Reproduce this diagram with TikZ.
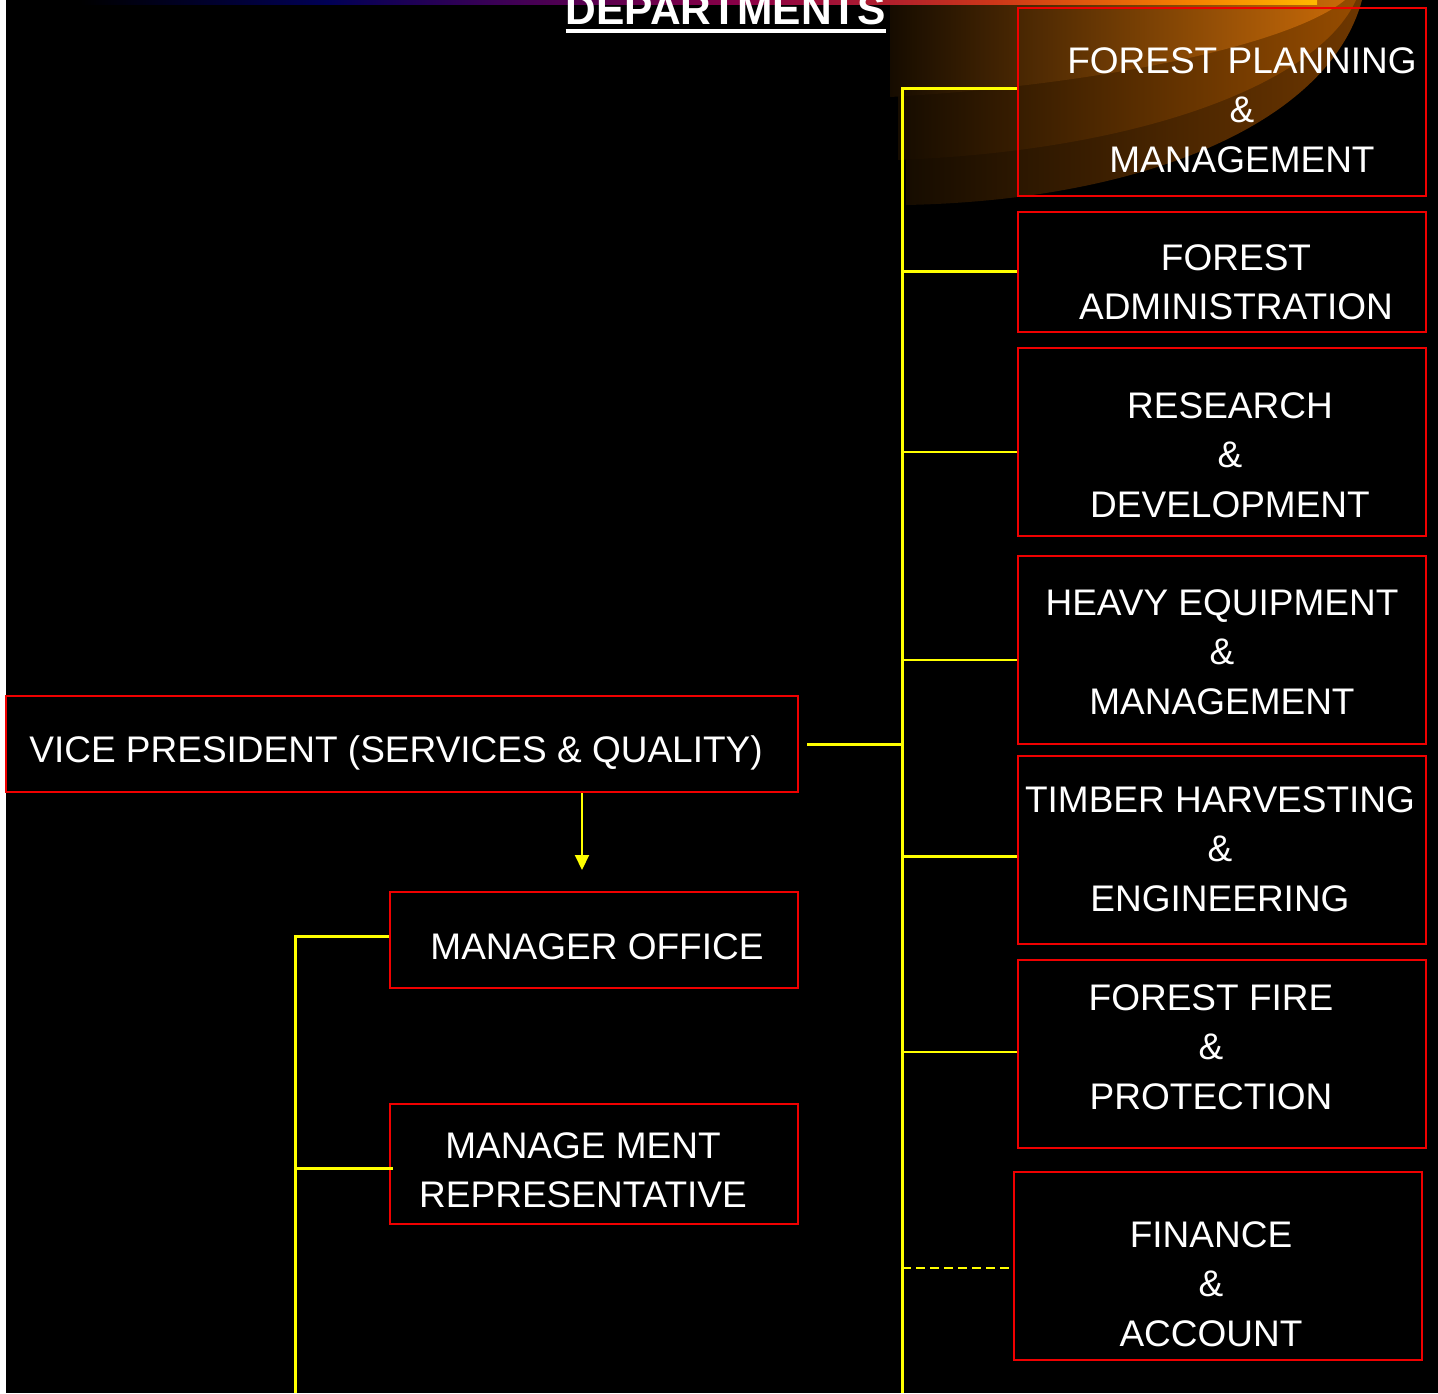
\documentclass[tikz,border=0pt]{standalone}
\usepackage{fontspec}
\setmainfont{Liberation Sans}
\usetikzlibrary{arrows.meta}

\definecolor{boxred}{RGB}{240,0,0}
\definecolor{linkyellow}{RGB}{255,255,0}
\definecolor{glowdark}{RGB}{22,12,0}
\definecolor{glowA}{RGB}{200,106,8}
\definecolor{glowB}{RGB}{150,76,0}
\definecolor{glowC}{RGB}{110,55,0}
\definecolor{bandnavy}{RGB}{0,0,85}
\definecolor{bandpurple}{RGB}{60,0,85}
\definecolor{bandmagenta}{RGB}{140,0,70}
\definecolor{bandred}{RGB}{205,55,25}
\definecolor{bandorange}{RGB}{245,130,0}
\definecolor{bandyellow}{RGB}{255,185,0}

% thin coloured band along the top edge
\pgfdeclarehorizontalshading{topband}{100bp}{color(0bp)=(black); color(25bp)=(black);
  color(35bp)=(bandnavy); color(42bp)=(bandpurple); color(52bp)=(bandmagenta);
  color(62bp)=(bandred); color(70bp)=(bandorange); color(75bp)=(bandyellow); color(100bp)=(bandyellow)}

\begin{document}
\begin{tikzpicture}[x=1pt,y=-1pt,>={Triangle[width=14pt,length=15pt]},
    dept/.style={draw=boxred,line width=2pt,inner sep=0pt,minimum width=408pt},
    deptname/.style={text=white,align=center,inner sep=0pt,font=\fontsize{37}{49.3}\selectfont},
    link/.style={draw=linkyellow,line width=3pt},
    thinlink/.style={draw=linkyellow,line width=2pt}]
  \useasboundingbox (0,0) rectangle (1438,1393);
  \fill[white] (0,0) rectangle (1438,1393);
  \fill[black] (6,0) rectangle (1438,1393);

  % orange swoosh in the top right corner
  \shade[left color=glowdark,right color=glowC] (906,0) -- (906,205)
    .. controls (1150,200) and (1330,120) .. (1362,0) -- cycle;
  \shade[left color=glowdark,right color=glowB] (898,0) -- (898,160)
    .. controls (1150,150) and (1320,80) .. (1356,0) -- cycle;
  \shade[left color=glowdark,right color=glowA] (890,0) -- (890,97)
    .. controls (1100,85) and (1290,45) .. (1345,0) -- cycle;
  \shade[shading=topband] (80,0) rectangle (1317,4.5);

  % title
  \node[text=white,anchor=base,inner sep=0pt,font=\bfseries\fontsize{42.5}{50}\selectfont]
    (title) at (726,24) {DEPARTMENTS};
  \draw[white,line width=4pt] ([yshift=-7.3pt]title.base west) -- ([yshift=-7.3pt]title.base east);

  % departments
  \node[dept,minimum height=188pt] (plan) at (1222,102) {};
  \node[deptname] (plan-t) at (1242,110) {FOREST PLANNING\\\&\\MANAGEMENT};
  \node[dept,minimum height=120pt] (admin) at (1222,272) {};
  \node[deptname] (admin-t) at (1236,282) {FOREST\\ADMINISTRATION};
  \node[dept,minimum height=188pt] (rnd) at (1222,442) {};
  \node[deptname] (rnd-t) at (1230,455) {RESEARCH\\\&\\DEVELOPMENT};
  \node[dept,minimum height=188pt] (heavy) at (1222,650) {};
  \node[deptname] (heavy-t) at (1222,652) {HEAVY EQUIPMENT\\\&\\MANAGEMENT};
  \node[dept,minimum height=188pt] (timber) at (1222,850) {};
  \node[deptname] (timber-t) at (1220,849) {TIMBER HARVESTING\\\&\\ENGINEERING};
  \node[dept,minimum height=188pt] (fire) at (1222,1054) {};
  \node[deptname] (fire-t) at (1211,1047) {FOREST FIRE\\\&\\PROTECTION};
  \node[dept,minimum height=188pt] (fin) at (1218,1266) {};
  \node[deptname] (fin-t) at (1211,1284) {FINANCE\\\&\\ACCOUNT};

  % vice president and his office
  \node[dept,minimum width=792pt,minimum height=96pt] (vp) at (402,744) {};
  \node[deptname] (vp-t) at (396,753) {VICE PRESIDENT (SERVICES \& QUALITY)};
  \node[dept,minimum height=96pt] (mo) at (594,940) {};
  \node[deptname] (mo-t) at (597,947) {MANAGER OFFICE};
  \node[dept,minimum height=120pt] (mr) at (594,1164) {};
  \node[deptname] (mr-t) at (583,1170) {MANAGE MENT\\REPRESENTATIVE};

  % trunk on the right
  \coordinate (j1) at (902,88);
  \coordinate (j2) at (902,271);
  \coordinate (j3) at (902,452);
  \coordinate (j4) at (902,660);
  \coordinate (j5) at (902,856);
  \coordinate (j6) at (902,1052);
  \coordinate (j7) at (902,1268);
  \coordinate (jb) at (902,1393);
  \draw[link] (plan.west |- j1) -- (j1) -- (jb);
  \draw[link] (j2) -- (j2 -| admin.west);
  \draw[thinlink] (j3) -- (j3 -| rnd.west);
  \draw[thinlink] (j4) -- (j4 -| heavy.west);
  \draw[link] (j5) -- (j5 -| timber.west);
  \draw[thinlink] (j6) -- (j6 -| fire.west);
  \draw[thinlink,dash pattern=on 9pt off 5pt] (j7) -- (j7 -| fin.west);
  \draw[link] ([xshift=8pt]vp.east) -- (vp.east -| j1);

  % arrow down to the office
  \coordinate (arr) at (582,870);
  \draw[thinlink,->,linkyellow] (arr |- vp.south) -- (arr);

  % trunk on the left
  \coordinate (k1) at (295,936);
  \coordinate (k2) at (295,1168);
  \coordinate (kb) at (295,1393);
  \draw[link] (mo.west |- k1) -- (k1) -- (kb);
  \draw[link] (k2) -- ([xshift=4pt]k2 -| mr.west);
\end{tikzpicture}
\end{document}
